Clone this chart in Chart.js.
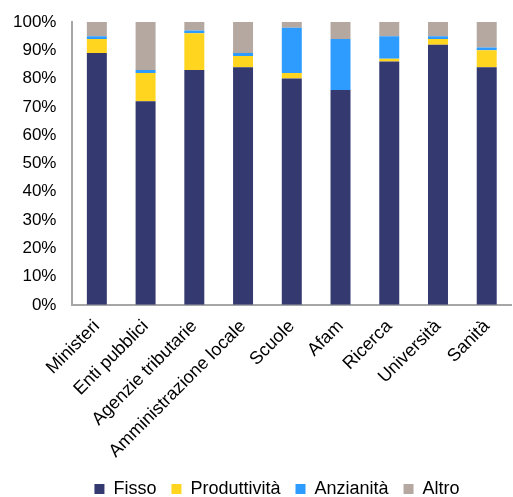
<!DOCTYPE html>
<html>
<head>
<meta charset="utf-8">
<script src="https://cdn.jsdelivr.net/npm/chart.js@4/dist/chart.umd.min.js"></script>
<style>
  html, body { margin: 0; padding: 0; background: #fff; }
  #wrap { width: 513px; height: 497px; }
</style>
</head>
<body>
<div id="wrap"><canvas id="grafico"></canvas></div>
<script>
const categorie = ['Ministeri', 'Enti pubblici', 'Agenzie tributarie', 'Amministrazione locale', 'Scuole', 'Afam', 'Ricerca', 'Università', 'Sanità'];
const fisso = [89, 72, 83, 84, 80, 76, 86, 92, 84];
const produttivita = [5, 10, 13, 4, 2, 0, 1, 2, 6];
const anzianita = [1, 1, 1, 1, 16, 18, 8, 1, 1];
const altro = [5, 17, 3, 11, 2, 6, 5, 5, 9];
const tickY = ['0%', '10%', '20%', '30%', '40%', '50%', '60%', '70%', '80%', '90%', '100%'];

Chart.defaults.font.family = '"Liberation Sans", Arial, sans-serif';
Chart.defaults.color = '#000';

const serie = [
    { label: 'Fisso', data: fisso, colore: '#343a70' },
    { label: 'Produttività', data: produttivita, colore: '#ffd520' },
    { label: 'Anzianità', data: anzianita, colore: '#2e9bff' },
    { label: 'Altro', data: altro, colore: '#b5a8a0' }
];

// la legenda originale non è centrata: la sposto a destra e la riporto su
const spostaLegenda = {
    id: 'spostaLegenda',
    afterLayout(chart) {
        const lg = chart.legend;
        if (!lg) return;
        lg.left += 44;
        lg.top -= 8;
        lg.bottom -= 8;
    }
};

new Chart(document.getElementById('grafico').getContext('2d'), {
    type: 'bar',
    data: {
        labels: categorie,
        datasets: serie.map(s => ({
            label: s.label,
            data: s.data,
            backgroundColor: s.colore,
            borderWidth: 0,
            barPercentage: 0.41,
            categoryPercentage: 1
        }))
    },
    plugins: [spostaLegenda],
    options: {
        responsive: true,
        maintainAspectRatio: false,
        animation: false,
        layout: { padding: { top: 0, right: 0, left: -3, bottom: -19 } },
        plugins: {
            tooltip: { enabled: false },
            legend: {
                position: 'bottom',
                labels: {
                    boxWidth: 10,
                    boxHeight: 10,
                    padding: 15,
                    font: { size: 18 }
                }
            }
        },
        scales: {
            x: {
                stacked: true,
                grid: { display: false, drawTicks: false },
                border: { color: '#a6a6a6', width: 2 },
                ticks: {
                    maxRotation: 45,
                    minRotation: 45,
                    padding: 11,
                    font: { size: 18 }
                }
            },
            y: {
                stacked: true,
                min: 0,
                max: 100,
                grid: { display: false, drawTicks: false },
                border: { color: '#a6a6a6', width: 2 },
                ticks: {
                    stepSize: 10,
                    padding: 16,
                    font: { size: 17 },
                    callback: (v, i) => tickY[i]
                },
                afterFit: (scala) => { scala.paddingTop = 22; }
            }
        }
    }
});
</script>
</body>
</html>
